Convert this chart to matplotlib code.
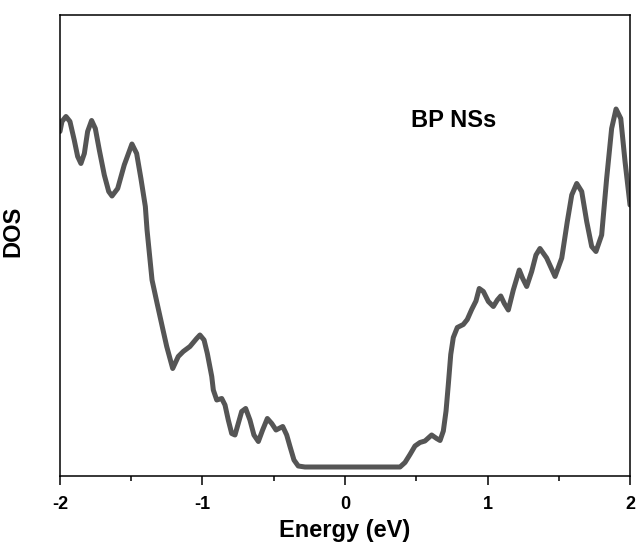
import numpy as np
import matplotlib.pyplot as plt

plt.rcParams['font.family'] = ['Liberation Sans', 'DejaVu Sans']
plt.rcParams['font.weight'] = 'bold'

# Density of states of BP nanosheets (arbitrary units)
energy = [-2.000, -1.986, -1.958, -1.930, -1.900, -1.876, -1.853, -1.829,
          -1.806, -1.778, -1.752, -1.724, -1.689, -1.658, -1.635, -1.595,
          -1.549, -1.495, -1.462, -1.432, -1.401, -1.389, -1.354, -1.319,
          -1.277, -1.251, -1.209, -1.170, -1.135, -1.088, -1.041, -1.018,
          -0.989, -0.966, -0.935, -0.924, -0.900, -0.865, -0.842, -0.819,
          -0.795, -0.772, -0.749, -0.725, -0.697, -0.667, -0.639, -0.608,
          -0.578, -0.545, -0.514, -0.484, -0.437, -0.409, -0.386, -0.358,
          -0.328, -0.281, 0.000, 0.386, 0.421, 0.456, 0.491, 0.526,
          0.561, 0.608, 0.643, 0.667, 0.690, 0.709, 0.725, 0.742,
          0.760, 0.788, 0.830, 0.858, 0.889, 0.919, 0.942, 0.971,
          1.006, 1.041, 1.069, 1.093, 1.118, 1.146, 1.181, 1.223,
          1.247, 1.275, 1.310, 1.340, 1.368, 1.415, 1.474, 1.521,
          1.560, 1.591, 1.626, 1.661, 1.696, 1.731, 1.761, 1.801,
          1.836, 1.871, 1.902, 1.935, 1.965, 2.000]
dos = [6.71, 6.91, 7.01, 6.91, 6.54, 6.21, 6.07, 6.27,
       6.71, 6.93, 6.77, 6.34, 5.84, 5.51, 5.42, 5.57,
       6.04, 6.46, 6.27, 5.77, 5.21, 4.74, 3.74, 3.28,
       2.74, 2.41, 1.97, 2.21, 2.31, 2.41, 2.57, 2.64,
       2.54, 2.27, 1.81, 1.54, 1.34, 1.37, 1.24, 0.94,
       0.67, 0.64, 0.87, 1.11, 1.17, 0.94, 0.64, 0.51,
       0.74, 0.97, 0.87, 0.74, 0.81, 0.64, 0.41, 0.14,
       0.02, 0.00, 0.00, 0.00, 0.09, 0.25, 0.42, 0.49,
       0.52, 0.64, 0.57, 0.53, 0.72, 1.12, 1.65, 2.25,
       2.59, 2.79, 2.85, 2.95, 3.15, 3.32, 3.57, 3.51,
       3.31, 3.21, 3.34, 3.42, 3.27, 3.14, 3.54, 3.94,
       3.77, 3.61, 3.91, 4.24, 4.37, 4.18, 3.81, 4.18,
       4.91, 5.44, 5.67, 5.51, 4.91, 4.41, 4.31, 4.64,
       5.77, 6.77, 7.16, 6.97, 6.11, 5.24]

major_ticks = [-2, -1, 0, 1, 2]
minor_ticks = [-1.5, -0.5, 0.5, 1.5]

fig = plt.figure(figsize=(6.36, 5.47), dpi=100)
ax = fig.add_axes([0.0943, 0.1298, 0.8963, 0.8428])

ax.plot(energy, dos, color='#555555', lw=3.6,
        solid_joinstyle='round', solid_capstyle='round')

ax.set_xlim(-2, 2)
ax.set_ylim(-0.18, 9.04)
ax.set_xticks(major_ticks)
ax.set_xticks(minor_ticks, minor=True)
ax.set_xticklabels([str(t) for t in major_ticks])
ax.set_yticks([])

ax.tick_params(axis='x', which='major', direction='out', length=6.5,
               width=1.1, pad=8, labelsize=13, top=False)
ax.tick_params(axis='x', which='minor', direction='out', length=3.5,
               width=1.1, top=False)
for s in ax.spines.values():
    s.set_linewidth(1.1)

ax.set_xlabel('Energy (eV)', fontsize=17, fontweight='bold', labelpad=4)
ax.set_ylabel('DOS', fontsize=17, fontweight='bold')
ax.yaxis.set_label_coords(-0.063, 0.53)

ax.text(0.691, 0.772, 'BP NSs', transform=ax.transAxes, fontsize=17,
        fontweight='bold', ha='center', va='center')

fig.savefig('out.png', dpi=100)
